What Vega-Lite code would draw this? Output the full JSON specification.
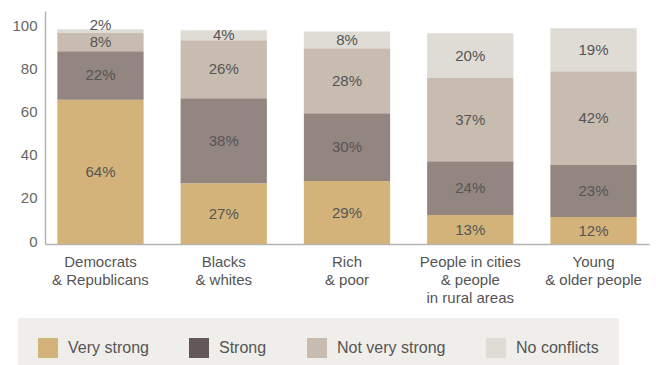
{
  "$schema": "https://vega.github.io/schema/vega-lite/v6.json",
  "width": 604,
  "height": 233,
  "autosize": "none",
  "padding": {"left": 45, "top": 11, "right": 7, "bottom": 121},
  "config": {
    "font": "Liberation Sans",
    "view": {"stroke": null},
    "axisX": {"domainColor": "#b3b3b3", "domainWidth": 1.5, "ticks": false, "grid": false, "labelFontSize": 15, "labelColor": "#555555", "labelPadding": 10, "labelLineHeight": 18, "labelAngle": 0, "labelExpr": "split(datum.label, '|')", "title": null},
    "axisY": {"domainColor": "#b3b3b3", "domainWidth": 1.5, "ticks": false, "grid": false, "labelFontSize": 15, "labelColor": "#666666", "labelPadding": 8, "labelOffset": -3, "values": [0, 20, 40, 60, 80, 100], "title": null}
  },
  "data": {
    "values": [
      {"group": "Democrats|& Republicans", "level": "Very strong", "rank": 1, "value": 66.9, "label": "64%"},
      {"group": "Democrats|& Republicans", "level": "Strong", "rank": 2, "value": 22.5, "label": "22%"},
      {"group": "Democrats|& Republicans", "level": "Not very strong", "rank": 3, "value": 8.4, "label": "8%"},
      {"group": "Democrats|& Republicans", "level": "No conflicts", "rank": 4, "value": 1.7, "label": "2%"},
      {"group": "Blacks|& whites", "level": "Very strong", "rank": 1, "value": 28.2, "label": "27%"},
      {"group": "Blacks|& whites", "level": "Strong", "rank": 2, "value": 39.4, "label": "38%"},
      {"group": "Blacks|& whites", "level": "Not very strong", "rank": 3, "value": 26.8, "label": "26%"},
      {"group": "Blacks|& whites", "level": "No conflicts", "rank": 4, "value": 4.7, "label": "4%"},
      {"group": "Rich|& poor", "level": "Very strong", "rank": 1, "value": 29.2, "label": "29%"},
      {"group": "Rich|& poor", "level": "Strong", "rank": 2, "value": 31.4, "label": "30%"},
      {"group": "Rich|& poor", "level": "Not very strong", "rank": 3, "value": 30.1, "label": "28%"},
      {"group": "Rich|& poor", "level": "No conflicts", "rank": 4, "value": 7.8, "label": "8%"},
      {"group": "People in cities|& people|in rural areas", "level": "Very strong", "rank": 1, "value": 13.4, "label": "13%"},
      {"group": "People in cities|& people|in rural areas", "level": "Strong", "rank": 2, "value": 25.0, "label": "24%"},
      {"group": "People in cities|& people|in rural areas", "level": "Not very strong", "rank": 3, "value": 38.5, "label": "37%"},
      {"group": "People in cities|& people|in rural areas", "level": "No conflicts", "rank": 4, "value": 20.8, "label": "20%"},
      {"group": "Young|& older people", "level": "Very strong", "rank": 1, "value": 12.5, "label": "12%"},
      {"group": "Young|& older people", "level": "Strong", "rank": 2, "value": 24.1, "label": "23%"},
      {"group": "Young|& older people", "level": "Not very strong", "rank": 3, "value": 43.5, "label": "42%"},
      {"group": "Young|& older people", "level": "No conflicts", "rank": 4, "value": 19.9, "label": "19%"}
    ]
  },
  "encoding": {
    "x": {"field": "group", "type": "nominal", "sort": null, "scale": {"paddingInner": 0.3, "paddingOuter": 0.1}, "title": null}
  },
  "layer": [
    {
      "mark": {"type": "bar"},
      "encoding": {
        "y": {"field": "value", "type": "quantitative", "stack": "zero", "scale": {"domain": [0, 108], "nice": false}, "title": null},
        "color": {"field": "level", "type": "nominal", "sort": {"field": "rank", "op": "min"}, "scale": {"range": ["#D3B37A", "#938580", "#C8BCB1", "#DFDCD6"]}, "legend": null},
        "order": {"field": "rank", "type": "quantitative"}
      }
    },
    {
      "mark": {"type": "text", "fontSize": 15, "color": "#555555", "align": "center", "baseline": "middle"},
      "encoding": {
        "y": {"field": "value", "type": "quantitative", "stack": "zero", "bandPosition": 0.5, "title": null},
        "detail": {"field": "level"},
        "order": {"field": "rank", "type": "quantitative"},
        "text": {"field": "label"},
        "opacity": {"condition": {"test": "datum.value < 3", "value": 0}, "value": 1}
      }
    },
    {
      "mark": {"type": "text", "fontSize": 15, "color": "#555555", "align": "center", "baseline": "middle", "dy": -6},
      "encoding": {
        "y": {"field": "value", "type": "quantitative", "stack": "zero", "bandPosition": 0.5, "title": null},
        "detail": {"field": "level"},
        "order": {"field": "rank", "type": "quantitative"},
        "text": {"field": "label"},
        "opacity": {"condition": {"test": "datum.value < 3", "value": 1}, "value": 0}
      }
    },
    {
      "transform": [{"filter": "false"}],
      "mark": {"type": "square", "opacity": 1, "filled": true},
      "encoding": {
        "fill": {"field": "level", "type": "nominal", "scale": {"domain": ["Very strong", "Strong", "Not very strong", "No conflicts"], "range": ["#D3B37A", "#635757", "#C8BCB1", "#DFDCD6"]},
          "legend": {"orient": "none", "legendX": -27, "legendY": 307, "direction": "horizontal", "title": null, "symbolType": "square", "symbolSize": 400, "symbolStrokeWidth": 0, "labelFontSize": 16, "labelColor": "#555555", "labelOffset": 10, "columnPadding": 40, "padding": 20, "fillColor": "#F0EEEA"}}
      }
    }
  ]
}
